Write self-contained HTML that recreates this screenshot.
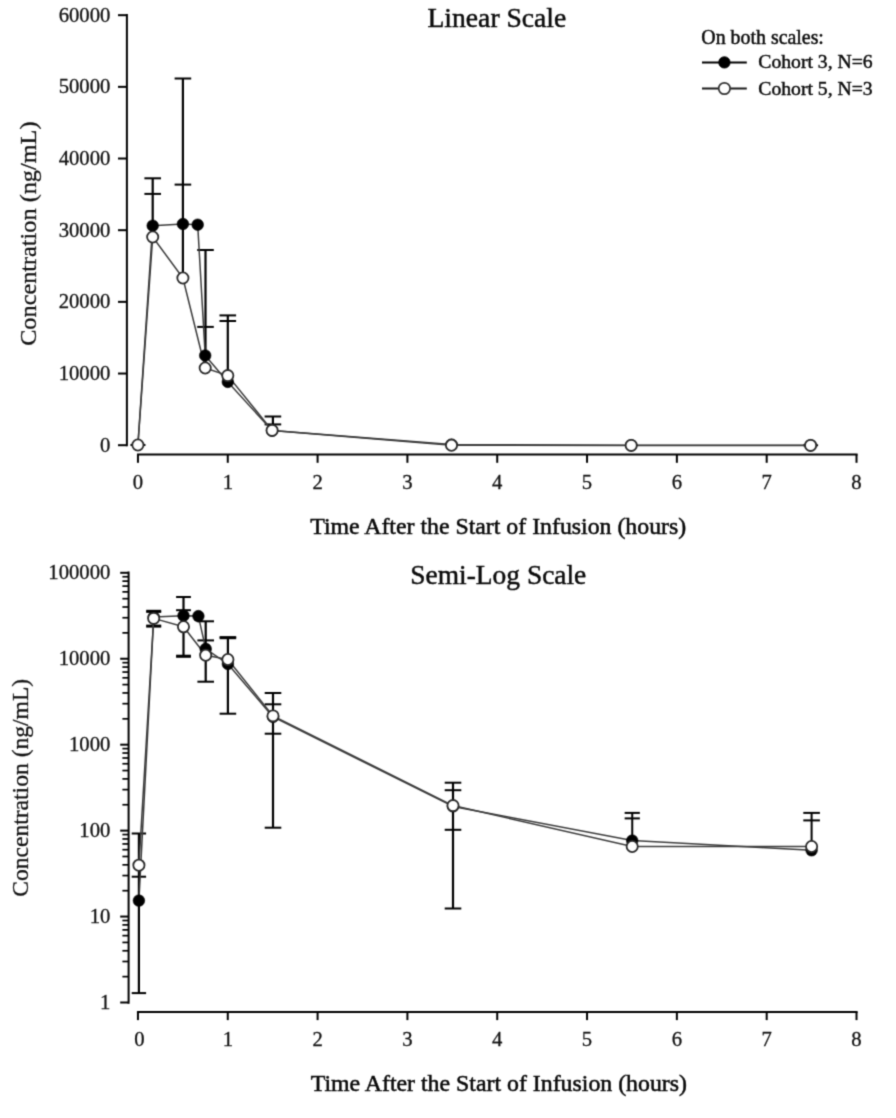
<!DOCTYPE html>
<html><head><meta charset="utf-8"><title>Concentration vs Time</title>
<style>
html,body{margin:0;padding:0;background:#fff;}
body{width:896px;height:1118px;overflow:hidden;}
svg{display:block;}
text{font-family:"Liberation Serif","DejaVu Serif",serif;fill:#111;stroke:#111;stroke-width:0.3px;}
text.m{fill:#080808;stroke:#080808;stroke-width:0.5px;}
text.b{fill:#0a0a0a;stroke:#0a0a0a;stroke-width:0.45px;}

</style></head><body>
<svg width="896" height="1118" viewBox="0 0 896 1118">
<defs><filter id="soft" x="0" y="0" width="896" height="1118" filterUnits="userSpaceOnUse" color-interpolation-filters="sRGB"><feConvolveMatrix order="3" kernelMatrix="1 4 1 4 16 4 1 4 1" divisor="36" edgeMode="duplicate" preserveAlpha="true"/></filter></defs>
<g filter="url(#soft)">
<rect width="896" height="1118" fill="#fff"/>
<line x1="126.90" y1="14.00" x2="126.90" y2="446.20" stroke="#000" stroke-width="2" stroke-linecap="butt"/>
<line x1="136.95" y1="454.40" x2="857.60" y2="454.40" stroke="#000" stroke-width="2" stroke-linecap="butt"/>
<line x1="118.00" y1="445.20" x2="126.90" y2="445.20" stroke="#000" stroke-width="2" stroke-linecap="butt"/>
<text x="110.4" y="451.7" font-size="20.7" text-anchor="end">0</text>
<line x1="118.00" y1="373.53" x2="126.90" y2="373.53" stroke="#000" stroke-width="2" stroke-linecap="butt"/>
<text x="110.4" y="380.0" font-size="20.7" text-anchor="end">10000</text>
<line x1="118.00" y1="301.86" x2="126.90" y2="301.86" stroke="#000" stroke-width="2" stroke-linecap="butt"/>
<text x="110.4" y="308.4" font-size="20.7" text-anchor="end">20000</text>
<line x1="118.00" y1="230.19" x2="126.90" y2="230.19" stroke="#000" stroke-width="2" stroke-linecap="butt"/>
<text x="110.4" y="236.7" font-size="20.7" text-anchor="end">30000</text>
<line x1="118.00" y1="158.52" x2="126.90" y2="158.52" stroke="#000" stroke-width="2" stroke-linecap="butt"/>
<text x="110.4" y="165.0" font-size="20.7" text-anchor="end">40000</text>
<line x1="118.00" y1="86.85" x2="126.90" y2="86.85" stroke="#000" stroke-width="2" stroke-linecap="butt"/>
<text x="110.4" y="93.3" font-size="20.7" text-anchor="end">50000</text>
<line x1="118.00" y1="15.18" x2="126.90" y2="15.18" stroke="#000" stroke-width="2" stroke-linecap="butt"/>
<text x="110.4" y="21.7" font-size="20.7" text-anchor="end">60000</text>
<line x1="137.95" y1="454.40" x2="137.95" y2="462.80" stroke="#000" stroke-width="2" stroke-linecap="butt"/>
<text x="137.9" y="489.0" font-size="20.7" text-anchor="middle">0</text>
<line x1="227.77" y1="454.40" x2="227.77" y2="462.80" stroke="#000" stroke-width="2" stroke-linecap="butt"/>
<text x="227.8" y="489.0" font-size="20.7" text-anchor="middle">1</text>
<line x1="317.59" y1="454.40" x2="317.59" y2="462.80" stroke="#000" stroke-width="2" stroke-linecap="butt"/>
<text x="317.6" y="489.0" font-size="20.7" text-anchor="middle">2</text>
<line x1="407.41" y1="454.40" x2="407.41" y2="462.80" stroke="#000" stroke-width="2" stroke-linecap="butt"/>
<text x="407.4" y="489.0" font-size="20.7" text-anchor="middle">3</text>
<line x1="497.23" y1="454.40" x2="497.23" y2="462.80" stroke="#000" stroke-width="2" stroke-linecap="butt"/>
<text x="497.2" y="489.0" font-size="20.7" text-anchor="middle">4</text>
<line x1="587.05" y1="454.40" x2="587.05" y2="462.80" stroke="#000" stroke-width="2" stroke-linecap="butt"/>
<text x="587.0" y="489.0" font-size="20.7" text-anchor="middle">5</text>
<line x1="676.87" y1="454.40" x2="676.87" y2="462.80" stroke="#000" stroke-width="2" stroke-linecap="butt"/>
<text x="676.9" y="489.0" font-size="20.7" text-anchor="middle">6</text>
<line x1="766.69" y1="454.40" x2="766.69" y2="462.80" stroke="#000" stroke-width="2" stroke-linecap="butt"/>
<text x="766.7" y="489.0" font-size="20.7" text-anchor="middle">7</text>
<line x1="856.51" y1="454.40" x2="856.51" y2="462.80" stroke="#000" stroke-width="2" stroke-linecap="butt"/>
<text x="856.5" y="489.0" font-size="20.7" text-anchor="middle">8</text>
<text x="427.5" y="27.0" font-size="27.4" textLength="138.8" lengthAdjust="spacingAndGlyphs" class="b">Linear Scale</text>
<text x="310.2" y="533.8" font-size="23" textLength="376.0" lengthAdjust="spacingAndGlyphs" class="m">Time After the Start of Infusion (hours)</text>
<text x="36.3" y="345.8" font-size="23.5" textLength="224.3" lengthAdjust="spacingAndGlyphs" transform="rotate(-90 36.3 345.8)">Concentration (ng/mL)</text>
<text x="701.3" y="44.0" font-size="20.2" textLength="122.6" lengthAdjust="spacingAndGlyphs" class="b">On both scales:</text>
<line x1="702.00" y1="62.40" x2="746.80" y2="62.40" stroke="#000" stroke-width="2" stroke-linecap="butt"/>
<circle cx="724.4" cy="62.4" r="5.7" fill="#000" stroke="#000" stroke-width="0.8"/>
<text x="758.3" y="68.2" font-size="19.8" textLength="114.4" lengthAdjust="spacingAndGlyphs" class="b">Cohort 3, N=6</text>
<line x1="702.00" y1="88.50" x2="746.80" y2="88.50" stroke="#1a1a1a" stroke-width="1.9" stroke-linecap="butt"/>
<circle cx="724.4" cy="88.5" r="5.7" fill="#fff" stroke="#333" stroke-width="1.7"/>
<text x="758.3" y="95.2" font-size="19.8" textLength="114.4" lengthAdjust="spacingAndGlyphs" class="b">Cohort 5, N=3</text>
<line x1="152.70" y1="178.30" x2="152.70" y2="237.00" stroke="#000" stroke-width="2.2" stroke-linecap="butt"/>
<line x1="144.40" y1="178.30" x2="161.00" y2="178.30" stroke="#000" stroke-width="2.0" stroke-linecap="butt"/>
<line x1="144.40" y1="193.90" x2="161.00" y2="193.90" stroke="#000" stroke-width="2.0" stroke-linecap="butt"/>
<line x1="182.90" y1="78.50" x2="182.90" y2="278.00" stroke="#000" stroke-width="2.2" stroke-linecap="butt"/>
<line x1="174.60" y1="78.50" x2="191.20" y2="78.50" stroke="#000" stroke-width="2.0" stroke-linecap="butt"/>
<line x1="174.60" y1="184.60" x2="191.20" y2="184.60" stroke="#000" stroke-width="2.0" stroke-linecap="butt"/>
<line x1="205.50" y1="250.00" x2="205.50" y2="368.00" stroke="#000" stroke-width="2.2" stroke-linecap="butt"/>
<line x1="197.20" y1="250.00" x2="213.80" y2="250.00" stroke="#000" stroke-width="2.0" stroke-linecap="butt"/>
<line x1="197.20" y1="326.90" x2="213.80" y2="326.90" stroke="#000" stroke-width="2.0" stroke-linecap="butt"/>
<line x1="227.80" y1="315.40" x2="227.80" y2="381.00" stroke="#000" stroke-width="2.2" stroke-linecap="butt"/>
<line x1="219.50" y1="315.40" x2="236.10" y2="315.40" stroke="#000" stroke-width="2.0" stroke-linecap="butt"/>
<line x1="219.50" y1="321.00" x2="236.10" y2="321.00" stroke="#000" stroke-width="2.0" stroke-linecap="butt"/>
<line x1="272.90" y1="416.50" x2="272.90" y2="430.00" stroke="#000" stroke-width="2.2" stroke-linecap="butt"/>
<line x1="264.60" y1="416.50" x2="281.20" y2="416.50" stroke="#000" stroke-width="2.0" stroke-linecap="butt"/>
<line x1="264.60" y1="424.40" x2="281.20" y2="424.40" stroke="#000" stroke-width="2.0" stroke-linecap="butt"/>
<line x1="130.45" y1="445.00" x2="145.45" y2="445.00" stroke="#000" stroke-width="2" stroke-linecap="butt"/>
<line x1="803.10" y1="445.30" x2="818.10" y2="445.30" stroke="#000" stroke-width="2" stroke-linecap="butt"/>
<polyline points="137.9,445.0 152.7,225.7 182.9,224.0 197.7,224.7 205.2,355.5 227.8,381.9 272.1,430.6 451.5,444.6 631.2,445.2 810.6,445.2" fill="none" stroke="#3c3c3c" stroke-width="1.5" stroke-linejoin="round"/>
<polyline points="137.9,445.0 152.7,237.0 182.9,278.0 205.2,368.0 227.8,375.6 272.1,430.4 451.5,445.2 631.2,445.4 810.6,445.4" fill="none" stroke="#3c3c3c" stroke-width="1.5" stroke-linejoin="round"/>
<circle cx="152.7" cy="225.7" r="5.8" fill="#000" stroke="#000" stroke-width="0.6"/>
<circle cx="182.9" cy="224.0" r="5.8" fill="#000" stroke="#000" stroke-width="0.6"/>
<circle cx="197.7" cy="224.7" r="5.8" fill="#000" stroke="#000" stroke-width="0.6"/>
<circle cx="205.2" cy="355.5" r="5.8" fill="#000" stroke="#000" stroke-width="0.6"/>
<circle cx="227.8" cy="381.9" r="5.8" fill="#000" stroke="#000" stroke-width="0.6"/>
<circle cx="272.1" cy="430.6" r="5.8" fill="#000" stroke="#000" stroke-width="0.6"/>
<circle cx="451.5" cy="444.6" r="5.8" fill="#000" stroke="#000" stroke-width="0.6"/>
<circle cx="631.2" cy="445.2" r="5.8" fill="#000" stroke="#000" stroke-width="0.6"/>
<circle cx="810.6" cy="445.2" r="5.8" fill="#000" stroke="#000" stroke-width="0.6"/>
<circle cx="137.9" cy="445.0" r="5.6" fill="#fff" stroke="#2a2a2a" stroke-width="1.8"/>
<circle cx="152.7" cy="237.0" r="5.6" fill="#fff" stroke="#2a2a2a" stroke-width="1.8"/>
<circle cx="182.9" cy="278.0" r="5.6" fill="#fff" stroke="#2a2a2a" stroke-width="1.8"/>
<circle cx="205.2" cy="368.0" r="5.6" fill="#fff" stroke="#2a2a2a" stroke-width="1.8"/>
<circle cx="227.8" cy="375.6" r="5.6" fill="#fff" stroke="#2a2a2a" stroke-width="1.8"/>
<circle cx="272.1" cy="430.4" r="5.6" fill="#fff" stroke="#2a2a2a" stroke-width="1.8"/>
<circle cx="451.5" cy="445.2" r="5.6" fill="#fff" stroke="#2a2a2a" stroke-width="1.8"/>
<circle cx="631.2" cy="445.4" r="5.6" fill="#fff" stroke="#2a2a2a" stroke-width="1.8"/>
<circle cx="810.6" cy="445.4" r="5.6" fill="#fff" stroke="#2a2a2a" stroke-width="1.8"/>
<line x1="128.60" y1="571.60" x2="128.60" y2="1003.70" stroke="#000" stroke-width="2" stroke-linecap="butt"/>
<line x1="120.20" y1="572.80" x2="128.60" y2="572.80" stroke="#000" stroke-width="2" stroke-linecap="butt"/>
<text x="110.4" y="579.3" font-size="20.7" text-anchor="end">100000</text>
<line x1="122.40" y1="632.87" x2="128.60" y2="632.87" stroke="#000" stroke-width="1.7" stroke-linecap="butt"/>
<line x1="122.40" y1="617.74" x2="128.60" y2="617.74" stroke="#000" stroke-width="1.7" stroke-linecap="butt"/>
<line x1="122.40" y1="607.00" x2="128.60" y2="607.00" stroke="#000" stroke-width="1.7" stroke-linecap="butt"/>
<line x1="122.40" y1="598.67" x2="128.60" y2="598.67" stroke="#000" stroke-width="1.7" stroke-linecap="butt"/>
<line x1="122.40" y1="591.87" x2="128.60" y2="591.87" stroke="#000" stroke-width="1.7" stroke-linecap="butt"/>
<line x1="122.40" y1="586.11" x2="128.60" y2="586.11" stroke="#000" stroke-width="1.7" stroke-linecap="butt"/>
<line x1="122.40" y1="581.13" x2="128.60" y2="581.13" stroke="#000" stroke-width="1.7" stroke-linecap="butt"/>
<line x1="122.40" y1="576.73" x2="128.60" y2="576.73" stroke="#000" stroke-width="1.7" stroke-linecap="butt"/>
<line x1="120.20" y1="658.74" x2="128.60" y2="658.74" stroke="#000" stroke-width="2" stroke-linecap="butt"/>
<text x="110.4" y="665.2" font-size="20.7" text-anchor="end">10000</text>
<line x1="122.40" y1="718.81" x2="128.60" y2="718.81" stroke="#000" stroke-width="1.7" stroke-linecap="butt"/>
<line x1="122.40" y1="703.68" x2="128.60" y2="703.68" stroke="#000" stroke-width="1.7" stroke-linecap="butt"/>
<line x1="122.40" y1="692.94" x2="128.60" y2="692.94" stroke="#000" stroke-width="1.7" stroke-linecap="butt"/>
<line x1="122.40" y1="684.61" x2="128.60" y2="684.61" stroke="#000" stroke-width="1.7" stroke-linecap="butt"/>
<line x1="122.40" y1="677.81" x2="128.60" y2="677.81" stroke="#000" stroke-width="1.7" stroke-linecap="butt"/>
<line x1="122.40" y1="672.05" x2="128.60" y2="672.05" stroke="#000" stroke-width="1.7" stroke-linecap="butt"/>
<line x1="122.40" y1="667.07" x2="128.60" y2="667.07" stroke="#000" stroke-width="1.7" stroke-linecap="butt"/>
<line x1="122.40" y1="662.67" x2="128.60" y2="662.67" stroke="#000" stroke-width="1.7" stroke-linecap="butt"/>
<line x1="120.20" y1="744.68" x2="128.60" y2="744.68" stroke="#000" stroke-width="2" stroke-linecap="butt"/>
<text x="110.4" y="751.2" font-size="20.7" text-anchor="end">1000</text>
<line x1="122.40" y1="804.75" x2="128.60" y2="804.75" stroke="#000" stroke-width="1.7" stroke-linecap="butt"/>
<line x1="122.40" y1="789.62" x2="128.60" y2="789.62" stroke="#000" stroke-width="1.7" stroke-linecap="butt"/>
<line x1="122.40" y1="778.88" x2="128.60" y2="778.88" stroke="#000" stroke-width="1.7" stroke-linecap="butt"/>
<line x1="122.40" y1="770.55" x2="128.60" y2="770.55" stroke="#000" stroke-width="1.7" stroke-linecap="butt"/>
<line x1="122.40" y1="763.75" x2="128.60" y2="763.75" stroke="#000" stroke-width="1.7" stroke-linecap="butt"/>
<line x1="122.40" y1="757.99" x2="128.60" y2="757.99" stroke="#000" stroke-width="1.7" stroke-linecap="butt"/>
<line x1="122.40" y1="753.01" x2="128.60" y2="753.01" stroke="#000" stroke-width="1.7" stroke-linecap="butt"/>
<line x1="122.40" y1="748.61" x2="128.60" y2="748.61" stroke="#000" stroke-width="1.7" stroke-linecap="butt"/>
<line x1="120.20" y1="830.62" x2="128.60" y2="830.62" stroke="#000" stroke-width="2" stroke-linecap="butt"/>
<text x="110.4" y="837.1" font-size="20.7" text-anchor="end">100</text>
<line x1="122.40" y1="890.69" x2="128.60" y2="890.69" stroke="#000" stroke-width="1.7" stroke-linecap="butt"/>
<line x1="122.40" y1="875.56" x2="128.60" y2="875.56" stroke="#000" stroke-width="1.7" stroke-linecap="butt"/>
<line x1="122.40" y1="864.82" x2="128.60" y2="864.82" stroke="#000" stroke-width="1.7" stroke-linecap="butt"/>
<line x1="122.40" y1="856.49" x2="128.60" y2="856.49" stroke="#000" stroke-width="1.7" stroke-linecap="butt"/>
<line x1="122.40" y1="849.69" x2="128.60" y2="849.69" stroke="#000" stroke-width="1.7" stroke-linecap="butt"/>
<line x1="122.40" y1="843.93" x2="128.60" y2="843.93" stroke="#000" stroke-width="1.7" stroke-linecap="butt"/>
<line x1="122.40" y1="838.95" x2="128.60" y2="838.95" stroke="#000" stroke-width="1.7" stroke-linecap="butt"/>
<line x1="122.40" y1="834.55" x2="128.60" y2="834.55" stroke="#000" stroke-width="1.7" stroke-linecap="butt"/>
<line x1="120.20" y1="916.56" x2="128.60" y2="916.56" stroke="#000" stroke-width="2" stroke-linecap="butt"/>
<text x="110.4" y="923.1" font-size="20.7" text-anchor="end">10</text>
<line x1="122.40" y1="976.63" x2="128.60" y2="976.63" stroke="#000" stroke-width="1.7" stroke-linecap="butt"/>
<line x1="122.40" y1="961.50" x2="128.60" y2="961.50" stroke="#000" stroke-width="1.7" stroke-linecap="butt"/>
<line x1="122.40" y1="950.76" x2="128.60" y2="950.76" stroke="#000" stroke-width="1.7" stroke-linecap="butt"/>
<line x1="122.40" y1="942.43" x2="128.60" y2="942.43" stroke="#000" stroke-width="1.7" stroke-linecap="butt"/>
<line x1="122.40" y1="935.63" x2="128.60" y2="935.63" stroke="#000" stroke-width="1.7" stroke-linecap="butt"/>
<line x1="122.40" y1="929.87" x2="128.60" y2="929.87" stroke="#000" stroke-width="1.7" stroke-linecap="butt"/>
<line x1="122.40" y1="924.89" x2="128.60" y2="924.89" stroke="#000" stroke-width="1.7" stroke-linecap="butt"/>
<line x1="122.40" y1="920.49" x2="128.60" y2="920.49" stroke="#000" stroke-width="1.7" stroke-linecap="butt"/>
<line x1="120.20" y1="1002.50" x2="128.60" y2="1002.50" stroke="#000" stroke-width="2" stroke-linecap="butt"/>
<text x="110.4" y="1009.0" font-size="20.7" text-anchor="end">1</text>
<line x1="136.95" y1="1011.90" x2="857.60" y2="1011.90" stroke="#000" stroke-width="2" stroke-linecap="butt"/>
<line x1="137.95" y1="1011.90" x2="137.95" y2="1020.10" stroke="#000" stroke-width="2" stroke-linecap="butt"/>
<text x="139.3" y="1046.2" font-size="20.7" text-anchor="middle">0</text>
<line x1="227.77" y1="1011.90" x2="227.77" y2="1020.10" stroke="#000" stroke-width="2" stroke-linecap="butt"/>
<text x="227.8" y="1046.2" font-size="20.7" text-anchor="middle">1</text>
<line x1="317.59" y1="1011.90" x2="317.59" y2="1020.10" stroke="#000" stroke-width="2" stroke-linecap="butt"/>
<text x="317.6" y="1046.2" font-size="20.7" text-anchor="middle">2</text>
<line x1="407.41" y1="1011.90" x2="407.41" y2="1020.10" stroke="#000" stroke-width="2" stroke-linecap="butt"/>
<text x="407.4" y="1046.2" font-size="20.7" text-anchor="middle">3</text>
<line x1="497.23" y1="1011.90" x2="497.23" y2="1020.10" stroke="#000" stroke-width="2" stroke-linecap="butt"/>
<text x="497.2" y="1046.2" font-size="20.7" text-anchor="middle">4</text>
<line x1="587.05" y1="1011.90" x2="587.05" y2="1020.10" stroke="#000" stroke-width="2" stroke-linecap="butt"/>
<text x="587.0" y="1046.2" font-size="20.7" text-anchor="middle">5</text>
<line x1="676.87" y1="1011.90" x2="676.87" y2="1020.10" stroke="#000" stroke-width="2" stroke-linecap="butt"/>
<text x="676.9" y="1046.2" font-size="20.7" text-anchor="middle">6</text>
<line x1="766.69" y1="1011.90" x2="766.69" y2="1020.10" stroke="#000" stroke-width="2" stroke-linecap="butt"/>
<text x="766.7" y="1046.2" font-size="20.7" text-anchor="middle">7</text>
<line x1="856.51" y1="1011.90" x2="856.51" y2="1020.10" stroke="#000" stroke-width="2" stroke-linecap="butt"/>
<text x="856.5" y="1046.2" font-size="20.7" text-anchor="middle">8</text>
<text x="410.3" y="583.8" font-size="27.4" textLength="176.0" lengthAdjust="spacingAndGlyphs" class="b">Semi-Log Scale</text>
<text x="310.7" y="1091.0" font-size="23" textLength="376.3" lengthAdjust="spacingAndGlyphs" class="m">Time After the Start of Infusion (hours)</text>
<text x="28.0" y="896.8" font-size="23.5" textLength="218.0" lengthAdjust="spacingAndGlyphs" transform="rotate(-90 28.0 896.8)">Concentration (ng/mL)</text>
<line x1="138.90" y1="833.50" x2="138.90" y2="993.10" stroke="#000" stroke-width="2.2" stroke-linecap="butt"/>
<line x1="131.70" y1="833.50" x2="146.10" y2="833.50" stroke="#000" stroke-width="2.0" stroke-linecap="butt"/>
<line x1="131.70" y1="876.70" x2="146.10" y2="876.70" stroke="#000" stroke-width="2.0" stroke-linecap="butt"/>
<line x1="131.70" y1="993.10" x2="146.10" y2="993.10" stroke="#000" stroke-width="2.0" stroke-linecap="butt"/>
<line x1="153.70" y1="611.20" x2="153.70" y2="626.00" stroke="#000" stroke-width="2.2" stroke-linecap="butt"/>
<line x1="146.20" y1="610.80" x2="161.20" y2="610.80" stroke="#000" stroke-width="2.0" stroke-linecap="butt"/>
<line x1="146.20" y1="611.90" x2="161.20" y2="611.90" stroke="#000" stroke-width="2.0" stroke-linecap="butt"/>
<line x1="146.20" y1="625.60" x2="161.20" y2="625.60" stroke="#000" stroke-width="2.0" stroke-linecap="butt"/>
<line x1="146.20" y1="626.60" x2="161.20" y2="626.60" stroke="#000" stroke-width="2.0" stroke-linecap="butt"/>
<line x1="183.50" y1="597.00" x2="183.50" y2="656.20" stroke="#000" stroke-width="2.2" stroke-linecap="butt"/>
<line x1="176.10" y1="597.00" x2="190.90" y2="597.00" stroke="#000" stroke-width="2.0" stroke-linecap="butt"/>
<line x1="176.10" y1="610.20" x2="190.90" y2="610.20" stroke="#000" stroke-width="2.0" stroke-linecap="butt"/>
<line x1="176.10" y1="655.70" x2="190.90" y2="655.70" stroke="#000" stroke-width="2.0" stroke-linecap="butt"/>
<line x1="176.10" y1="656.80" x2="190.90" y2="656.80" stroke="#000" stroke-width="2.0" stroke-linecap="butt"/>
<line x1="205.70" y1="621.30" x2="205.70" y2="681.70" stroke="#000" stroke-width="2.2" stroke-linecap="butt"/>
<line x1="197.40" y1="621.30" x2="214.00" y2="621.30" stroke="#000" stroke-width="2.0" stroke-linecap="butt"/>
<line x1="197.40" y1="640.40" x2="214.00" y2="640.40" stroke="#000" stroke-width="2.0" stroke-linecap="butt"/>
<line x1="197.40" y1="681.70" x2="214.00" y2="681.70" stroke="#000" stroke-width="2.0" stroke-linecap="butt"/>
<line x1="227.90" y1="637.60" x2="227.90" y2="713.70" stroke="#000" stroke-width="2.2" stroke-linecap="butt"/>
<line x1="219.60" y1="637.10" x2="236.20" y2="637.10" stroke="#000" stroke-width="2.0" stroke-linecap="butt"/>
<line x1="219.60" y1="638.20" x2="236.20" y2="638.20" stroke="#000" stroke-width="2.0" stroke-linecap="butt"/>
<line x1="219.60" y1="713.70" x2="236.20" y2="713.70" stroke="#000" stroke-width="2.0" stroke-linecap="butt"/>
<line x1="273.00" y1="693.00" x2="273.00" y2="827.70" stroke="#000" stroke-width="2.2" stroke-linecap="butt"/>
<line x1="264.70" y1="693.00" x2="281.30" y2="693.00" stroke="#000" stroke-width="2.0" stroke-linecap="butt"/>
<line x1="264.70" y1="704.30" x2="281.30" y2="704.30" stroke="#000" stroke-width="2.0" stroke-linecap="butt"/>
<line x1="264.70" y1="733.70" x2="281.30" y2="733.70" stroke="#000" stroke-width="2.0" stroke-linecap="butt"/>
<line x1="264.70" y1="827.70" x2="281.30" y2="827.70" stroke="#000" stroke-width="2.0" stroke-linecap="butt"/>
<line x1="453.00" y1="782.70" x2="453.00" y2="908.50" stroke="#000" stroke-width="2.2" stroke-linecap="butt"/>
<line x1="444.70" y1="782.70" x2="461.30" y2="782.70" stroke="#000" stroke-width="2.0" stroke-linecap="butt"/>
<line x1="444.70" y1="790.20" x2="461.30" y2="790.20" stroke="#000" stroke-width="2.0" stroke-linecap="butt"/>
<line x1="444.70" y1="829.80" x2="461.30" y2="829.80" stroke="#000" stroke-width="2.0" stroke-linecap="butt"/>
<line x1="444.70" y1="908.50" x2="461.30" y2="908.50" stroke="#000" stroke-width="2.0" stroke-linecap="butt"/>
<line x1="632.25" y1="812.90" x2="632.25" y2="846.00" stroke="#000" stroke-width="2.0" stroke-linecap="butt"/>
<line x1="624.65" y1="812.90" x2="639.85" y2="812.90" stroke="#000" stroke-width="2.0" stroke-linecap="butt"/>
<line x1="624.65" y1="818.40" x2="639.85" y2="818.40" stroke="#000" stroke-width="2.0" stroke-linecap="butt"/>
<line x1="811.60" y1="812.90" x2="811.60" y2="847.00" stroke="#000" stroke-width="2.0" stroke-linecap="butt"/>
<line x1="803.30" y1="812.90" x2="819.90" y2="812.90" stroke="#000" stroke-width="2.0" stroke-linecap="butt"/>
<line x1="803.30" y1="820.40" x2="819.90" y2="820.40" stroke="#000" stroke-width="2.0" stroke-linecap="butt"/>
<polyline points="138.9,900.6 153.7,617.0 183.5,615.7 198.4,616.1 205.7,648.9 227.9,664.0 273.0,716.9 453.0,806.4 632.2,840.6 811.6,850.3" fill="none" stroke="#3c3c3c" stroke-width="1.5" stroke-linejoin="round"/>
<polyline points="138.9,865.2 153.7,618.4 183.5,626.8 205.7,655.2 227.9,659.5 273.0,715.9 453.0,805.6 632.2,846.5 811.6,846.5" fill="none" stroke="#3c3c3c" stroke-width="1.5" stroke-linejoin="round"/>
<circle cx="138.9" cy="900.6" r="5.8" fill="#000" stroke="#000" stroke-width="0.6"/>
<circle cx="153.7" cy="617.0" r="5.8" fill="#000" stroke="#000" stroke-width="0.6"/>
<circle cx="183.5" cy="615.7" r="5.8" fill="#000" stroke="#000" stroke-width="0.6"/>
<circle cx="198.4" cy="616.1" r="5.8" fill="#000" stroke="#000" stroke-width="0.6"/>
<circle cx="205.7" cy="648.9" r="5.8" fill="#000" stroke="#000" stroke-width="0.6"/>
<circle cx="227.9" cy="664.0" r="5.8" fill="#000" stroke="#000" stroke-width="0.6"/>
<circle cx="273.0" cy="716.9" r="5.8" fill="#000" stroke="#000" stroke-width="0.6"/>
<circle cx="453.0" cy="806.4" r="5.8" fill="#000" stroke="#000" stroke-width="0.6"/>
<circle cx="632.2" cy="840.6" r="5.8" fill="#000" stroke="#000" stroke-width="0.6"/>
<circle cx="811.6" cy="850.3" r="5.8" fill="#000" stroke="#000" stroke-width="0.6"/>
<circle cx="138.9" cy="865.2" r="5.6" fill="#fff" stroke="#2a2a2a" stroke-width="1.8"/>
<circle cx="153.7" cy="618.4" r="5.6" fill="#fff" stroke="#2a2a2a" stroke-width="1.8"/>
<circle cx="183.5" cy="626.8" r="5.6" fill="#fff" stroke="#2a2a2a" stroke-width="1.8"/>
<circle cx="205.7" cy="655.2" r="5.6" fill="#fff" stroke="#2a2a2a" stroke-width="1.8"/>
<circle cx="227.9" cy="659.5" r="5.6" fill="#fff" stroke="#2a2a2a" stroke-width="1.8"/>
<circle cx="273.0" cy="715.9" r="5.6" fill="#fff" stroke="#2a2a2a" stroke-width="1.8"/>
<circle cx="453.0" cy="805.6" r="5.6" fill="#fff" stroke="#2a2a2a" stroke-width="1.8"/>
<circle cx="632.2" cy="846.5" r="5.6" fill="#fff" stroke="#2a2a2a" stroke-width="1.8"/>
<circle cx="811.6" cy="846.5" r="5.6" fill="#fff" stroke="#2a2a2a" stroke-width="1.8"/>
</g>
</svg>
</body></html>
